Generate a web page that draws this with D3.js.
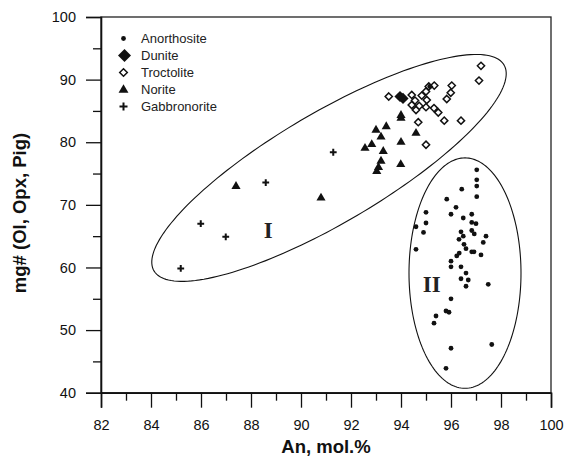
<!DOCTYPE html>
<html>
<head>
<meta charset="utf-8">
<script src="https://cdn.jsdelivr.net/npm/d3@7"></script>
<style>
  html, body { margin: 0; padding: 0; background: #fff; }
  svg { display: block; }
  text { font-family: "Liberation Sans", Arial, sans-serif; fill: #111; }
</style>
</head>
<body>
<svg id="chart" width="565" height="466"></svg>
<script>
// An (mol.%) vs mg# for each rock type: [An, mg#]
const anorthosite = [
  [97.03, 75.6], [97.03, 74.0], [97.03, 73.0], [96.43, 72.5], [97.03, 71.3],
  [95.83, 70.9], [96.2, 69.6], [95.0, 68.8], [96.0, 68.5], [96.83, 68.5],
  [96.49, 67.9], [95.0, 67.1], [96.83, 67.2], [97.0, 67.0], [94.6, 66.5],
  [94.9, 65.6], [96.4, 65.7], [96.83, 65.9], [96.93, 65.35], [97.4, 65.0],
  [96.49, 65.0], [96.32, 64.5], [97.29, 64.0], [96.52, 63.7], [96.6, 63.0],
  [94.6, 62.9], [96.83, 62.5], [96.92, 62.5], [96.33, 62.3], [96.23, 61.85],
  [97.2, 62.0], [96.0, 61.0], [96.0, 60.1], [96.4, 60.1], [96.6, 59.1],
  [96.4, 58.2], [96.69, 58.0], [96.6, 57.0], [97.49, 57.3], [96.0, 55.0],
  [95.8, 53.05], [95.92, 52.85], [95.4, 52.25], [95.32, 51.1], [97.63, 47.7],
  [96.0, 47.1], [95.8, 43.9], [95.15, 88.9]
];
const dunite = [[93.96, 87.3], [94.08, 87.0]];
const troctolite = [
  [97.2, 92.2], [97.12, 89.85], [96.03, 89.05], [95.99, 87.9], [95.83, 86.9],
  [95.33, 89.05], [95.11, 88.9], [95.0, 88.1], [93.51, 87.3], [94.43, 87.55],
  [94.83, 87.45], [95.03, 86.75], [94.56, 86.65], [94.43, 85.95], [94.73, 85.8],
  [95.0, 85.6], [94.6, 85.15], [95.32, 85.45], [95.49, 84.75], [95.73, 83.45],
  [94.69, 83.2], [96.4, 83.45], [95.0, 79.6]
];
const norite = [
  [87.4, 72.95], [90.8, 71.1], [92.56, 79.05], [92.83, 79.65], [93.0, 81.95],
  [93.41, 82.5], [93.2, 80.85], [93.29, 78.55], [93.2, 77.0], [93.1, 76.0],
  [93.03, 75.35], [94.0, 83.85], [94.0, 84.3], [94.0, 80.0], [93.99, 76.45],
  [94.6, 81.45]
];
const gabbronorite = [
  [85.19, 59.85], [85.99, 67.0], [86.99, 64.9], [88.59, 73.55], [91.29, 78.4]
];

// axis ticks
const xMajor = [82, 84, 86, 88, 90, 92, 94, 96, 98, 100];
const xMinor = [83, 85, 87, 89, 91, 93, 95, 97, 99];
const yMajor = [40, 50, 60, 70, 80, 90, 100];
const yMinor = [45, 55, 65, 75, 85, 95];

// field outlines: centre [An, mg#], half-axis vectors in data units
const fields = [
  { label: "I",  center: [91.12, 75.9], major: [7.0, 16.45], minor: [1.12, -7.6], labelAt: [88.69, 64.75] },
  { label: "II", center: [96.56, 59.1], major: [0, 18.4],    minor: [2.24, 0],    labelAt: [95.23, 56.05] }
];

const legendItems = ["Anorthosite", "Dunite", "Troctolite", "Norite", "Gabbronorite"];

const svg = d3.select("#chart");
const x = d3.scaleLinear().domain([82, 100]).range([101, 551]);
const y = d3.scaleLinear().domain([40, 100]).range([392.7, 17]);

// frame
svg.append("rect")
  .attr("x", x(82)).attr("y", y(100))
  .attr("width", x(100) - x(82)).attr("height", y(40) - y(100))
  .attr("fill", "none").attr("stroke", "#222").attr("stroke-width", 1.3);

// axes
function styleAxis(g) {
  g.selectAll("path.domain").attr("stroke", "#111").attr("stroke-width", 1.6);
  g.selectAll(".tick line").attr("stroke", "#111").attr("stroke-width", 1.3);
  g.selectAll(".tick text").attr("fill", "#111")
    .style("font-family", "'Liberation Sans', Arial, sans-serif").style("font-size", "14.5px");
}
const gx = svg.append("g").attr("transform", `translate(0,${y(40)})`)
  .call(d3.axisBottom(x).tickValues(xMajor).tickSize(15).tickPadding(12).tickFormat(d3.format("d")));
styleAxis(gx);
const gxm = svg.append("g").attr("transform", `translate(0,${y(40)})`)
  .call(d3.axisBottom(x).tickValues(xMinor).tickSize(8).tickFormat(""));
gxm.select("path.domain").remove();
styleAxis(gxm);

const gy = svg.append("g").attr("transform", `translate(${x(82)},0)`)
  .call(d3.axisLeft(y).tickValues(yMajor).tickSize(15).tickPadding(10).tickFormat(d3.format("d")));
styleAxis(gy);
const gym = svg.append("g").attr("transform", `translate(${x(82)},0)`)
  .call(d3.axisLeft(y).tickValues(yMinor).tickSize(8).tickFormat(""));
gym.select("path.domain").remove();
styleAxis(gym);

// axis titles
svg.append("text")
  .attr("x", (x(82) + x(100)) / 2).attr("y", 453)
  .attr("text-anchor", "middle")
  .style("font-weight", "bold").style("font-size", "18.5px")
  .text("An, mol.%");
svg.append("text")
  .attr("transform", `translate(26,213) rotate(-90)`)
  .attr("text-anchor", "middle")
  .style("font-weight", "bold").style("font-size", "18.5px")
  .text("mg# (Ol, Opx, Pig)");

// field ellipses
const ellipseLine = d3.line().curve(d3.curveLinearClosed);
fields.forEach(f => {
  const pts = d3.range(0, 360, 2).map(deg => {
    const t = deg * Math.PI / 180;
    const a = f.center[0] + Math.cos(t) * f.major[0] + Math.sin(t) * f.minor[0];
    const m = f.center[1] + Math.cos(t) * f.major[1] + Math.sin(t) * f.minor[1];
    return [x(a), y(m)];
  });
  svg.append("path").attr("d", ellipseLine(pts))
    .attr("fill", "none").attr("stroke", "#111").attr("stroke-width", 1.1);
  svg.append("text")
    .attr("x", x(f.labelAt[0])).attr("y", y(f.labelAt[1]))
    .attr("text-anchor", "middle")
    .style("font-family", "'Liberation Serif', 'Times New Roman', serif")
    .style("font-weight", "bold").style("font-size", "23px").style("fill", "#222")
    .text(f.label);
});

// marker shapes
function diamondPath(cx, cy, h) {
  return `M${cx},${cy - h}L${cx + h},${cy}L${cx},${cy + h}L${cx - h},${cy}Z`;
}
function plusPath(cx, cy, h) {
  return `M${cx - h},${cy}H${cx + h}M${cx},${cy - h}V${cy + h}`;
}
const tri = d3.symbol().type(d3.symbolTriangle);

function drawDot(g, cx, cy, r) {
  g.append("circle").attr("cx", cx).attr("cy", cy).attr("r", r).attr("fill", "#111");
}
function drawDunite(g, cx, cy, h) {
  g.append("path").attr("d", diamondPath(cx, cy, h)).attr("fill", "#111");
}
function drawTroct(g, cx, cy, h) {
  g.append("path").attr("d", diamondPath(cx, cy, h))
    .attr("fill", "#fff").attr("stroke", "#111").attr("stroke-width", 1.5);
}
function drawNorite(g, cx, cy, s) {
  g.append("path").attr("d", tri.size(s)()).attr("transform", `translate(${cx},${cy})`).attr("fill", "#111");
}
function drawPlus(g, cx, cy, h) {
  g.append("path").attr("d", plusPath(cx, cy, h)).attr("stroke", "#111").attr("stroke-width", 2).attr("fill", "none");
}

const marks = svg.append("g");
norite.forEach(d => drawNorite(marks, x(d[0]), y(d[1]), 36));
gabbronorite.forEach(d => drawPlus(marks, x(d[0]), y(d[1]), 3.4));
troctolite.forEach(d => drawTroct(marks, x(d[0]), y(d[1]), 3.6));
dunite.forEach(d => drawDunite(marks, x(d[0]), y(d[1]), 5.6));
anorthosite.forEach(d => drawDot(marks, x(d[0]), y(d[1]), 2.4));

// legend
const legend = svg.append("g");
const lx = 123.5, ly0 = 38.5, lstep = 17;
legendItems.forEach((name, i) => {
  const cy = ly0 + i * lstep;
  if (i === 0) drawDot(legend, lx, cy, 2.4);
  if (i === 1) drawDunite(legend, lx + 1, cy, 6.5);
  if (i === 2) drawTroct(legend, lx, cy, 3.8);
  if (i === 3) drawNorite(legend, lx, cy + 0.5, 42);
  if (i === 4) drawPlus(legend, lx, cy, 4);
  legend.append("text")
    .attr("x", 141).attr("y", cy).attr("dy", "0.35em")
    .style("font-size", "13px").style("fill", "#222")
    .text(name);
});
</script>
</body>
</html>
